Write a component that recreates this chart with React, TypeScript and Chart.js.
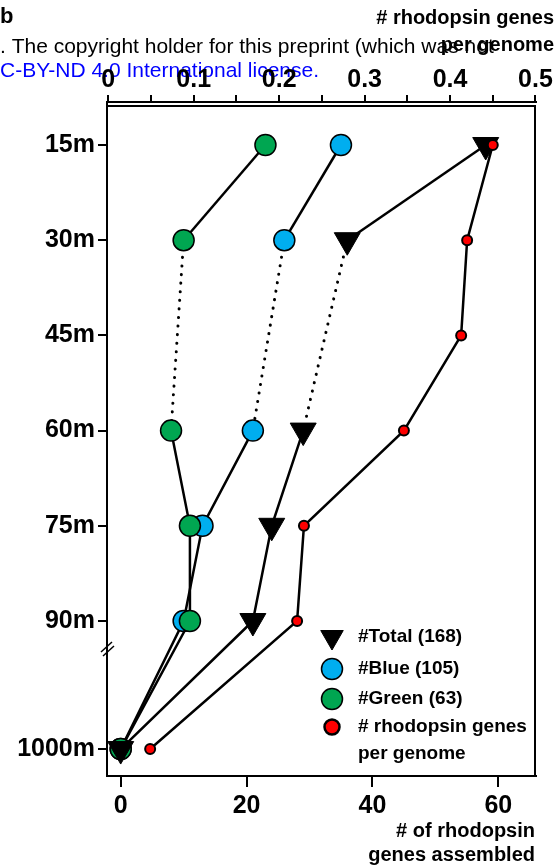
import React, { useEffect, useRef } from 'react';
import { Chart, registerables } from 'chart.js';

Chart.register(...registerables);

// ---- data ----
const DEPTH_LABELS = ['15m', '30m', '45m', '60m', '75m', '90m', '1000m'];
const DEPTH_POS = [1, 2, 3, 4, 5, 6, 7.345];
const TOTAL: (number | null)[] = [58, 36, null, 29, 24, 21, 0];
const BLUE: (number | null)[] = [35, 26, null, 21, 13, 10, 0];
const GREEN: (number | null)[] = [23, 10, null, 8, 11, 11, 0];
const PER_GENOME: (number | null)[] = [0.45, 0.42, 0.413, 0.346, 0.229, 0.221, 0.049];
const BOTTOM_TICKS = [0, 20, 40, 60];
const TOP_TICKS = [0, 0.05, 0.1, 0.15, 0.2, 0.25, 0.3, 0.35, 0.4, 0.45, 0.5];
const LEGEND_LABELS = ['#Total (168)', '#Blue (105)', '#Green (63)', '# rhodopsin genes', 'per genome'];
const TOP_TITLE = ['# rhodopsin genes', 'per genome'];
const BOTTOM_TITLE = ['# of rhodopsin', 'genes assembled'];

const FONT = "'Liberation Sans', Arial, Helvetica, sans-serif";
const W = 559;
const H = 865;
const AREA = { left: 107, right: 536, top: 102, bottom: 776 };

export default function App() {
  const ref = useRef<HTMLCanvasElement>(null);

  useEffect(() => {
    document.body.style.margin = '0';
    const canvas = ref.current!;
    const pts = (vals: (number | null)[]) =>
      vals
        .map((v, i) => (v == null ? null : { x: v, y: DEPTH_POS[i] }))
        .filter((p) => p !== null);
    const dotted = (c: any) => c.p1.parsed.y - c.p0.parsed.y > 1.5;
    const base: any = {
      borderColor: '#000',
      borderWidth: 2.5,
      borderCapStyle: 'butt',
      fill: false,
      tension: 0,
      segment: {
        borderDash: (c: any) => (dotted(c) ? [0.1, 8.5] : undefined),
        borderCapStyle: (c: any) => (dotted(c) ? 'round' : undefined),
        borderWidth: (c: any) => (dotted(c) ? 3 : undefined),
      },
      pointBorderColor: '#000',
      xAxisID: 'x',
      yAxisID: 'y',
    };

    const decor = {
      id: 'decor',
      beforeDraw(chart: any) {
        const ctx = chart.ctx;
        ctx.save();
        ctx.textBaseline = 'middle';
        ctx.textAlign = 'left';
        ctx.font = `normal 21px ${FONT}`;
        ctx.fillStyle = '#000';
        ctx.fillText('. The copyright holder for this preprint (which was not', 0, 47);
        ctx.fillStyle = '#0000ff';
        ctx.fillText('C-BY-ND 4.0 International license.', 0, 71);
        ctx.restore();
      },
      afterDraw(chart: any) {
        const ctx = chart.ctx;
        const a = chart.chartArea;
        ctx.save();
        // frame
        ctx.strokeStyle = '#000';
        ctx.lineWidth = 2;
        ctx.beginPath();
        ctx.moveTo(a.left, 106);
        ctx.lineTo(a.right - 1, 106);
        ctx.lineTo(a.right - 1, a.bottom);
        ctx.stroke();
        // axis break
        ctx.lineWidth = 1.5;
        ctx.beginPath();
        ctx.moveTo(101, 652);
        ctx.lineTo(112, 642);
        ctx.moveTo(103, 656);
        ctx.lineTo(114, 646);
        ctx.stroke();

        // legend
        const lx = 332;
        const ly = [637, 669, 699, 727, 754];
        ctx.lineWidth = 1;
        ctx.fillStyle = '#000';
        const r = 13;
        ctx.beginPath();
        ctx.moveTo(lx - r * 0.866, ly[0] - r / 2);
        ctx.lineTo(lx + r * 0.866, ly[0] - r / 2);
        ctx.lineTo(lx, ly[0] + r);
        ctx.closePath();
        ctx.fill();
        ctx.stroke();
        const circ = (y: number, rad: number, col: string, bw: number) => {
          ctx.beginPath();
          ctx.arc(lx, y, rad, 0, Math.PI * 2);
          ctx.fillStyle = col;
          ctx.fill();
          ctx.lineWidth = bw;
          ctx.strokeStyle = '#000';
          ctx.stroke();
        };
        circ(ly[1], 10.5, '#00aeef', 1.5);
        circ(ly[2], 10.5, '#00a651', 1.5);
        circ(ly[3], 7.5, '#ff0000', 2.5);
        ctx.fillStyle = '#000';
        ctx.textBaseline = 'middle';
        ctx.textAlign = 'left';
        ctx.font = `bold 19px ${FONT}`;
        LEGEND_LABELS.forEach((t, i) => ctx.fillText(t, 358, ly[i]));

        // titles
        ctx.font = `bold 22px ${FONT}`;
        ctx.fillText('b', 0, 17);
        ctx.font = `bold 20px ${FONT}`;
        ctx.textAlign = 'right';
        ctx.fillText(TOP_TITLE[0], 554, 18);
        ctx.fillText(TOP_TITLE[1], 554, 45);
        ctx.fillText(BOTTOM_TITLE[0], 535, 831);
        ctx.fillText(BOTTOM_TITLE[1], 535, 855);
        ctx.restore();
      },
    };

    const tickFont = { family: FONT, size: 25, weight: 'bold' as const };
    const gridBase = {
      drawOnChartArea: false,
      drawTicks: true,
      color: '#000',
      tickColor: '#000',
      lineWidth: 2,
      tickWidth: 2,
    };

    const chart = new Chart(canvas, {
      type: 'line',
      data: {
        datasets: [
          {
            ...base,
            label: '# rhodopsin genes per genome',
            data: pts(PER_GENOME),
            xAxisID: 'x2',
            pointStyle: 'circle',
            pointRadius: 5,
            pointBackgroundColor: '#ff0000',
            pointBorderWidth: 2,
          },
          {
            ...base,
            label: '#Total (168)',
            data: pts(TOTAL),
            pointStyle: 'triangle',
            pointRotation: 180,
            pointRadius: 15,
            pointBackgroundColor: '#000',
            pointBorderWidth: 1,
          },
          {
            ...base,
            label: '#Green (63)',
            data: pts(GREEN),
            pointStyle: 'circle',
            pointRadius: 10.5,
            pointBackgroundColor: '#00a651',
            pointBorderWidth: 1.5,
          },
          {
            ...base,
            label: '#Blue (105)',
            data: pts(BLUE),
            pointStyle: 'circle',
            pointRadius: 10.5,
            pointBackgroundColor: '#00aeef',
            pointBorderWidth: 1.5,
          },
        ] as any,
      },
      options: {
        animation: false,
        responsive: false,
        devicePixelRatio: 1,
        events: [],
        layout: { padding: { left: 0, right: W - AREA.right, top: 0, bottom: 0 } },
        plugins: { legend: { display: false }, tooltip: { enabled: false } },
        scales: {
          x: {
            type: 'linear',
            position: 'bottom',
            min: -2.177,
            max: 65.99,
            afterBuildTicks: (s: any) => {
              s.ticks = BOTTOM_TICKS.map((v) => ({ value: v }));
            },
            afterFit: (s: any) => {
              s.height = H - AREA.bottom;
            },
            ticks: {
              font: tickFont,
              color: '#000',
              padding: 4,
              autoSkip: false,
              maxRotation: 0,
              callback: (v: any) => String(v),
            },
            grid: { ...gridBase, tickLength: 11 },
            border: { display: true, color: '#000', width: 2 },
          },
          x2: {
            type: 'linear',
            position: 'top',
            min: -0.0015,
            max: 0.5006,
            afterBuildTicks: (s: any) => {
              s.ticks = TOP_TICKS.map((v) => ({ value: v }));
            },
            afterFit: (s: any) => {
              s.height = AREA.top;
            },
            ticks: {
              font: tickFont,
              color: '#000',
              padding: 0,
              autoSkip: false,
              maxRotation: 0,
              callback: (v: any) => {
                const k = Math.round(v * 20);
                if (k % 2 !== 0) return '';
                return k === 0 ? '0' : (k / 20).toFixed(1);
              },
            },
            grid: { ...gridBase, tickLength: 7 },
            border: { display: true, color: '#000', width: 2 },
          },
          y: {
            type: 'linear',
            position: 'left',
            reverse: true,
            min: 0.5483,
            max: 7.628,
            afterBuildTicks: (s: any) => {
              s.ticks = DEPTH_POS.map((v) => ({ value: v }));
            },
            afterFit: (s: any) => {
              s.width = AREA.left;
            },
            ticks: {
              font: tickFont,
              color: '#000',
              padding: 3,
              autoSkip: false,
              callback: (v: any) => {
                const i = DEPTH_POS.findIndex((p) => Math.abs(p - v) < 1e-6);
                return i >= 0 ? DEPTH_LABELS[i] : '';
              },
            },
            grid: { ...gridBase, tickLength: 9 },
            border: { display: true, color: '#000', width: 2 },
          },
        },
      } as any,
      plugins: [decor],
    });
    return () => chart.destroy();
  }, []);

  return (
    <div style={{ width: W, height: H }}>
      <canvas ref={ref} width={W} height={H} style={{ width: W, height: H, display: 'block' }} />
    </div>
  );
}
